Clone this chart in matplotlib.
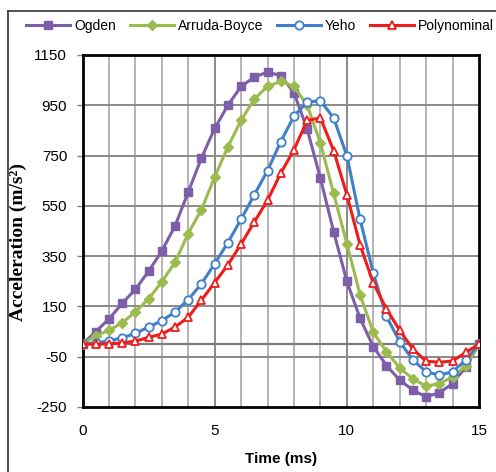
import numpy as np
import matplotlib.pyplot as plt
from matplotlib.lines import Line2D

plt.rcParams['font.family'] = ['Liberation Sans', 'DejaVu Sans']
plt.rcParams['axes.unicode_minus'] = False

# time axis, one sample every 0.5 ms
time_ms = np.arange(0, 15.5, 0.5)

ogden = [0, 50, 100, 162, 218, 290, 370, 470, 605, 740, 858, 950, 1025, 1062,
         1082, 1068, 1000, 855, 660, 448, 250, 103, -10, -85, -143, -183, -210,
         -193, -157, -90, 0]
arruda_boyce = [0, 33, 55, 85, 128, 180, 248, 325, 440, 535, 665, 785, 890, 975,
                1025, 1045, 1025, 950, 800, 600, 400, 197, 47, -30, -95, -138,
                -167, -157, -130, -87, 0]
yeho = [0, 5, 13, 25, 43, 68, 93, 128, 177, 240, 320, 404, 497, 594, 690, 805,
        907, 963, 968, 900, 750, 497, 283, 110, 10, -63, -110, -123, -110, -63, 0]
polynominal = [0, 0, 1, 5, 12, 27, 40, 68, 107, 175, 245, 315, 398, 486, 572, 680,
               773, 890, 900, 770, 595, 395, 243, 140, 55, -20, -68, -72, -67,
               -33, 0]

names = ['Ogden', 'Arruda-Boyce', 'Yeho', 'Polynominal']
colors = ['#7c5fa8', '#9bbb4f', '#3f80c8', '#f01c1c']
y_ticks = [1150, 950, 750, 550, 350, 150, -50, -250]
x_ticks = [0, 5, 10, 15]

fig = plt.figure(figsize=(4.96, 4.72), dpi=100)
ax = fig.add_axes([82.5 / 496, 1 - 407 / 472, 396.5 / 496, 352 / 472])

# grid: light lines every ms, darker ones on the labelled ticks
for t in range(1, 15):
    c = '#8a8a8a' if t % 5 == 0 else '#b4b4b4'
    ax.axvline(t, color=c, lw=1.4, zorder=1)
for v in y_ticks[1:-1]:
    ax.axhline(v, color='#8a8a8a', lw=1.4, zorder=1)
ax.axhline(0, color='#7a7a7a', lw=1.6, zorder=1)

styles = [
    dict(marker='s', ms=5.5, mfc=colors[0], mec=colors[0]),
    dict(marker='D', ms=5, mfc=colors[1], mec=colors[1]),
    dict(marker='o', ms=6, mfc='white', mec=colors[2], mew=1.3),
    dict(marker='^', ms=6, mfc='white', mec=colors[3], mew=1.3),
]
series = [ogden, arruda_boyce, yeho, polynominal]
for vals, name, c, st in zip(series, names, colors, styles):
    ax.plot(time_ms, vals, color=c, lw=2.2, label=name, zorder=3, **st)

ax.set_xlim(0, 15)
ax.set_ylim(-250, 1150)
ax.set_xticks(x_ticks)
ax.set_yticks(y_ticks)
ax.tick_params(axis='x', length=0, pad=12, labelsize=11)
ax.tick_params(axis='y', length=4, width=1, color='#808080', pad=7, labelsize=11)
for sp in ax.spines.values():
    sp.set_linewidth(2)
    sp.set_color('black')

ax.set_xlabel('Time (ms)', fontsize=11, fontweight='bold', labelpad=10)
ax.set_ylabel('Acceleration (m/s²)', fontsize=14, fontweight='bold',
              family=['Liberation Serif', 'DejaVu Serif'])
ax.yaxis.set_label_coords((27 - 82.5) / 396.5, 0.47)

fig.legend(loc='center left', bbox_to_anchor=(26 / 496, 1 - 26 / 472), ncol=4,
           frameon=False, fontsize=10, handlelength=3.2, handletextpad=0.25,
           columnspacing=1.0, borderpad=0, borderaxespad=0, numpoints=1)

# outer frame around the whole chart
fig.add_artist(Line2D([8 / 496, 8 / 496], [0, 1 - 11 / 472], color='#333333',
                      lw=1.2, transform=fig.transFigure))
fig.add_artist(Line2D([8 / 496, 1], [1 - 11 / 472, 1 - 11 / 472], color='#333333',
                      lw=1.2, transform=fig.transFigure))

fig.savefig('out.png', dpi=100)
